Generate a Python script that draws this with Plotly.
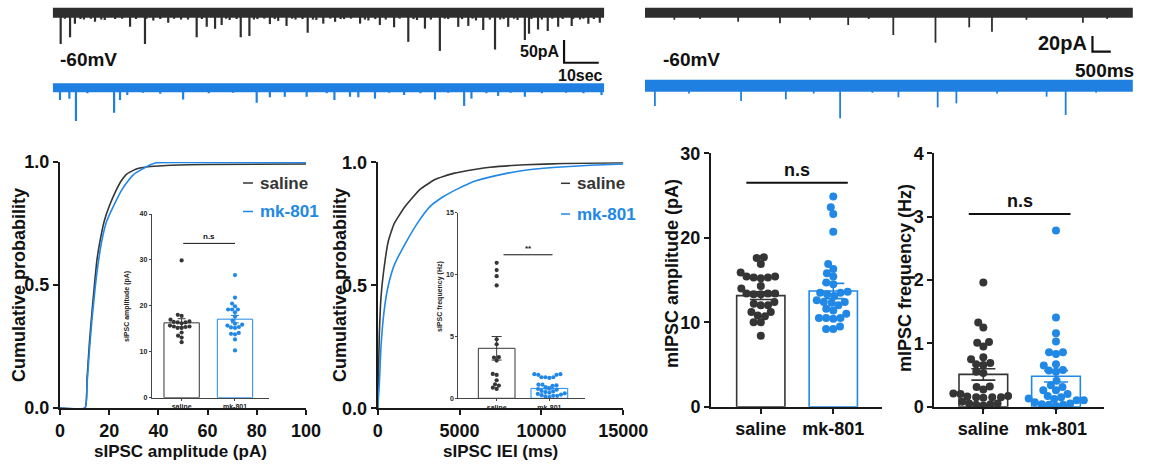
import math
import plotly.graph_objects as go

# ---------------- DATA ----------------
GROUPS = ["saline", "mk-801"]

# Example traces: recording length and detected events (time s, amplitude pA)
SIPSC_DURATION_S = 159
SIPSC_SAL_T = [2.3, 5.0, 6.4, 12.2, 22.3, 26.6, 33.3, 41.5, 44.4, 46.8, 48.7, 54.2, 56.7, 62.6, 67.4, 73.5, 78.0,
               81.4, 88.6, 94.3, 98.4, 102.5, 107.3, 111.6, 116.9, 119.8, 124.1, 127.5, 131.3, 136.1, 137.3, 139.9,
               142.7, 145.7, 149.6, 154.4, 157.7,
               9, 15, 18, 29, 37, 51, 59, 65, 70, 76, 84, 91, 96, 105, 114, 122, 129, 134, 147, 152,
               3.5, 8, 11, 14, 20, 24, 27, 31, 35, 39, 43, 50, 53, 58, 61, 64, 69, 72, 75, 80, 83, 86, 90, 93,
               100, 104, 109, 113, 118, 121, 126, 130, 133, 138, 141, 144, 150, 153, 156]
SIPSC_SAL_A = [69, 54, 24, 20, 31, 69, 22, 54, 31, 35, 27, 54, 51, 25, 29, 44, 24,
               20, 24, 27, 32, 64, 35, 84, 31, 29, 38, 81, 31, 60, 46, 37,
               40, 31, 29, 24, 22,
               15, 16, 14, 17, 15, 16, 14, 18, 15, 16, 14, 17, 15, 16, 14, 17, 15, 16, 14, 15,
               13, 14, 13, 15, 13, 14, 13, 14, 13, 15, 14, 13, 14, 15, 13, 14, 13, 14, 15, 13, 14, 13, 15, 14,
               13, 14, 15, 13, 14, 13, 15, 14, 13, 14, 15, 13, 14, 13, 14]
SIPSC_MK_T = [2.1, 4.8, 6.7, 17.7, 19.4, 21.5, 37.6, 58.8, 62.6, 66.9, 73.2, 81.2, 85.7, 88.1, 92.9, 101.3,
              110.2, 118.6, 120.7, 128.4, 136.1, 158.2,
              10, 26, 31, 45, 52, 79, 97, 106, 114, 125, 132, 141, 148, 153]
SIPSC_MK_A = [27, 24, 73, 55, 27, 16, 26, 33, 21, 20, 20, 27, 20, 21, 24, 16,
              26, 40, 24, 18, 20, 16,
              12, 11, 13, 12, 11, 12, 11, 12, 11, 12, 11, 12, 11, 12]

MIPSC_DURATION_S = 13.3
MIPSC_SAL_T = [2.54, 3.68, 5.54, 6.77, 7.92, 8.84, 9.46, 11.94, 0.8, 1.5, 4.5, 6.1, 10.4, 12.6]
MIPSC_SAL_A = [11.5, 13.6, 15.7, 28.5, 38.3, 18.7, 24.3, 12.8, 9, 8, 9, 8, 9, 8]
MIPSC_MK_T = [0.27, 2.62, 3.84, 5.32, 6.91, 7.98, 8.49, 10.95, 11.47, 1.2, 4.6, 6.2, 9.6, 12.3]
MIPSC_MK_A = [26, 19.6, 17.5, 41.7, 14.9, 27.7, 22.6, 14, 37.4, 10, 10, 9, 10, 9]

# Cumulative distributions
AMP_X_SAL = [0, 10.2, 11, 12, 13, 14, 15, 16.3, 18, 20, 22.8, 25, 27, 29.8, 32, 35, 40, 45, 60, 100]
AMP_Y_SAL = [0, 0, 0.12, 0.27, 0.39, 0.5, 0.6, 0.68, 0.76, 0.82, 0.885, 0.925, 0.95, 0.966, 0.975, 0.98, 0.984,
             0.987, 0.99, 0.992]
AMP_X_MK = [0, 10.2, 11, 12, 13, 14, 15, 17, 19, 21.7, 25, 27.8, 30, 32.5, 35, 37, 39.3, 45, 100]
AMP_Y_MK = [0, 0, 0.1, 0.24, 0.36, 0.46, 0.55, 0.68, 0.76, 0.82, 0.885, 0.925, 0.95, 0.966, 0.98, 0.99, 0.997,
            0.998, 0.998]

IEI_X_SAL = [0, 50, 100, 200, 350, 650, 1000, 1670, 2585, 3500, 4620, 6000, 6860, 9000, 11330, 15000]
IEI_Y_SAL = [0, 0.15, 0.3, 0.45, 0.55, 0.68, 0.75, 0.82, 0.89, 0.93, 0.955, 0.972, 0.98, 0.99, 0.995, 0.998]
IEI_X_MK = [0, 100, 200, 400, 650, 1000, 1770, 2500, 3190, 4000, 4820, 6000, 7870, 9000, 10920, 13000, 15000]
IEI_Y_MK = [0, 0.1, 0.25, 0.4, 0.5, 0.58, 0.68, 0.76, 0.82, 0.86, 0.89, 0.925, 0.955, 0.968, 0.98, 0.988, 0.993]

# Inset: sIPSC amplitude (pA)
SAMP_SAL = [29.9, 18.05, 17.8, 17.0, 16.6, 16.4, 16.5, 16.4, 16.2, 15.7, 15.5, 15.2, 15.2, 15.4, 15.5, 13.5, 13.1,
            14.2, 12.1]
SAMP_MK = [26.7, 21.8, 20.5, 19.9, 19.2, 18.6, 19.2, 19.2, 17.7, 16.8, 16.1, 15.7, 15.4, 15.2, 15.3, 15.9, 14.1,
           13.8, 13.9, 12.7, 10.3]
SAMP_MEAN = [16.3, 17.1]
SAMP_SEM = [0.9, 0.8]
SAMP_SIG = 33.6

# Inset: sIPSC frequency (Hz)
SFREQ_SAL = [10.95, 10.36, 9.87, 9.12, 4.77, 4.37, 3.32, 3.05, 3.29, 1.89, 1.97, 1.46, 1.03, 0.76, 0.86, 1.13]
SFREQ_MK = [1.95, 1.95, 1.9, 1.9, 1.7, 1.7, 1.7, 1.65, 1.1, 1.1, 1.05, 1.0, 0.9, 0.8, 0.75, 0.7, 0.6, 0.55, 0.5,
            0.45, 0.4, 0.35, 0.3, 0.25, 0.2, 0.2, 0.15, 0.1]
SFREQ_MEAN = [4.04, 0.8]
SFREQ_SEM = [0.95, 0.12]
SFREQ_SIG = 11.6

# mIPSC amplitude (pA)
MAMP_SAL = [17.7, 17.6, 16.9, 15.9, 15.4, 15.4, 15.3, 15.2, 15.3, 14.3, 13.4, 13.3, 13.3, 13.4, 13.4, 12.4, 12.0,
            12.0, 12.2, 11.2, 10.8, 10.7, 11.2, 10.0, 10.0, 8.4, 14.0]
MAMP_MK = [24.9, 22.8, 23.6, 20.7, 16.9, 16.3, 15.8, 15.4, 14.7, 14.5, 13.6, 13.5, 13.5, 13.3, 13.1, 12.4, 12.4,
           12.3, 12.6, 11.4, 11.6, 10.5, 10.4, 10.5, 10.5, 9.5, 9.2, 9.2, 11.0, 12.0]
MAMP_MEAN = [13.15, 13.7]
MAMP_SEM = [0.45, 0.9]
MAMP_SIG = 26.5

# mIPSC frequency (Hz)
MFREQ_SAL = [1.96, 1.33, 1.25, 1.01, 0.95, 1.02, 0.78, 0.69, 0.75, 0.66, 0.67, 0.55, 0.53, 0.31, 0.27, 0.32, 0.2,
             0.21, 0.15, 0.16, 0.14, 0.15, 0.17, 0.15, 0.05, 0.03, 0.05, 0.04, 0.02, 0.08]
MFREQ_MK = [2.78, 1.41, 1.16, 1.03, 0.86, 0.83, 0.86, 0.67, 0.65, 0.57, 0.55, 0.58, 0.34, 0.41, 0.31, 0.26, 0.26,
            0.17, 0.13, 0.1, 0.1, 0.2, 0.04, 0.03, 0.01, 0.03, 0.05, 0.15, 0.12, 0.07]
MFREQ_MEAN = [0.51, 0.48]
MFREQ_SEM = [0.09, 0.09]
MFREQ_SIG = 3.04

# ---------------- STYLE / LAYOUT ----------------
W, H = 1150, 464
FONT = "Liberation Sans, Arial, sans-serif"
DARK = "#353535"
BLUE = "#2188e6"
TR_DARK = "#2e2e2e"
TR_BLUE = "#1f80e2"
AXC = "#1a1a1a"

fig = go.Figure()
layout = dict(width=W, height=H, margin=dict(l=0, r=0, t=0, b=0, autoexpand=False), paper_bgcolor="white",
              plot_bgcolor="rgba(0,0,0,0)", showlegend=False, barmode="overlay", hovermode=False)


def xdom(x0, x1):
    return [x0 / W, x1 / W]


def ydom(top, bottom):
    return [1 - bottom / H, 1 - top / H]


PANELS = {}


def add_axes(n, xpx, ypx, xr, yr, kind):
    PANELS[n] = dict(xpx=xpx, ypx=ypx, xr=xr, yr=yr)
    xa = "xaxis" if n == 1 else f"xaxis{n}"
    ya = "yaxis" if n == 1 else f"yaxis{n}"
    anc = "" if n == 1 else str(n)
    base = dict(showgrid=False, zeroline=False, fixedrange=True, automargin=False)
    if kind == "hidden":
        layout[xa] = dict(domain=xdom(*xpx), range=xr, visible=False, anchor="y" + anc, **base)
        layout[ya] = dict(domain=ydom(*ypx), range=yr, visible=False, anchor="x" + anc, **base)
        return
    if kind == "main":
        ax = dict(showline=True, linewidth=2, linecolor=AXC, ticks="outside", ticklen=5, tickwidth=2,
                  tickcolor=AXC, tickfont=dict(family=FONT, size=18, color="#111", weight="bold"), **base)
    else:
        ax = dict(showline=True, linewidth=1, linecolor="#444", ticks="outside", ticklen=2, tickwidth=1,
                  tickcolor="#444", tickfont=dict(family=FONT, size=7, color="#222", weight="bold"), **base)
    layout[xa] = dict(domain=xdom(*xpx), range=xr, anchor="y" + anc, **ax)
    layout[ya] = dict(domain=ydom(*ypx), range=yr, anchor="x" + anc, **ax)


def ax_ids(n):
    return ("x", "y") if n == 1 else (f"x{n}", f"y{n}")


# ---- traces (top) ----
add_axes(1, (52.7, 604.3), (0, 125), [0, 159], [-247, 28], "hidden")
add_axes(2, (645, 1135), (0, 125), [0, 13.36], [-143.4, 16.2], "hidden")


def add_recording(n, duration, times, amps, base, color, band_w, spike_w):
    xa, ya = ax_ids(n)
    fig.add_trace(go.Scatter(x=[0, duration], y=[base, base], mode="lines", xaxis=xa, yaxis=ya,
                             line=dict(color=color, width=band_w), hoverinfo="skip"))
    xs, ys = [], []
    for t, a in zip(times, amps):
        xs += [t, t, None]
        ys += [base, base - a, None]
    fig.add_trace(go.Scatter(x=xs, y=ys, mode="lines", xaxis=xa, yaxis=ya, connectgaps=False,
                             line=dict(color=color, width=spike_w), hoverinfo="skip"))


add_recording(1, SIPSC_DURATION_S, SIPSC_SAL_T, SIPSC_SAL_A, 0, TR_DARK, 10, 2.2)
add_recording(1, SIPSC_DURATION_S, SIPSC_MK_T, SIPSC_MK_A, -165, TR_BLUE, 9, 2.2)
add_recording(2, MIPSC_DURATION_S, MIPSC_SAL_T, MIPSC_SAL_A, 0, TR_DARK, 10, 1.8)
add_recording(2, MIPSC_DURATION_S, MIPSC_MK_T, MIPSC_MK_A, -93.2, TR_BLUE, 12, 1.8)


def scale_bar(n, x0, y0, dx, dy):
    xa, ya = ax_ids(n)
    fig.add_trace(go.Scatter(x=[x0, x0, x0 + dx], y=[y0 + dy, y0, y0], mode="lines", xaxis=xa, yaxis=ya,
                             line=dict(color="#111", width=2.2), hoverinfo="skip"))


scale_bar(1, 147.4, -110, 10, 50)
scale_bar(2, 12.2, -49.8, 0.5, 20)


def ann(text, x, y, size, color="#111", xanchor="center", angle=0, bold=True):
    fig.add_annotation(text=f"<b>{text}</b>" if bold else text, x=x / W, y=1 - y / H, xref="paper",
                       yref="paper", showarrow=False, xanchor=xanchor, yanchor="middle", textangle=angle,
                       font=dict(family=FONT, size=size, color=color), borderpad=0)


ann("-60mV", 59, 60, 19, xanchor="left")
ann("50pA", 561, 51.5, 16, xanchor="right")
ann("10sec", 580, 76, 16)
ann("-60mV", 662, 59, 19, xanchor="left")
ann("20pA", 1088, 43, 20, xanchor="right")
ann("500ms", 1104, 70, 19)

# ---- cumulative panels ----
add_axes(3, (60, 306), (162, 408), [0, 100], [0, 1], "main")
add_axes(5, (377.7, 623.3), (162.3, 408.3), [0, 15000], [0, 1], "main")
layout["xaxis3"].update(tickvals=[0, 20, 40, 60, 80, 100])
layout["yaxis3"].update(tickvals=[0, 0.5, 1], ticktext=["0.0", "0.5", "1.0"])
layout["xaxis5"].update(tickvals=[0, 5000, 10000, 15000], ticktext=["0", "5000", "10000", "15000"])
layout["yaxis5"].update(tickvals=[0, 0.5, 1], ticktext=["0.0", "0.5", "1.0"])

for n, xs, ys, col in [(3, AMP_X_SAL, AMP_Y_SAL, DARK), (3, AMP_X_MK, AMP_Y_MK, BLUE),
                       (5, IEI_X_SAL, IEI_Y_SAL, DARK), (5, IEI_X_MK, IEI_Y_MK, BLUE)]:
    xa, ya = ax_ids(n)
    fig.add_trace(go.Scatter(x=xs, y=ys, mode="lines", xaxis=xa, yaxis=ya, cliponaxis=False,
                             line=dict(color=col, width=1.6, shape="spline", smoothing=0.4),
                             hoverinfo="skip"))

ann("Cumulative probability", 19, 285, 18, angle=-90)
ann("sIPSC amplitude (pA)", 180, 451, 17)
ann("Cumulative probability", 340, 285, 18, angle=-90)
ann("sIPSC IEI (ms)", 500, 451, 17)

# legends
for (dx0, dx1, tx, y_s, y_m) in [(243, 253, 259, 183, 211.5), (561, 570, 576.5, 183.3, 214)]:
    fig.add_shape(type="line", xref="paper", yref="paper", x0=dx0 / W, x1=dx1 / W, y0=1 - y_s / H,
                  y1=1 - y_s / H, line=dict(color=DARK, width=1.5))
    fig.add_shape(type="line", xref="paper", yref="paper", x0=dx0 / W, x1=dx1 / W, y0=1 - y_m / H,
                  y1=1 - y_m / H, line=dict(color=BLUE, width=1.5))
    ann(GROUPS[0], tx, y_s, 17, color=DARK, xanchor="left")
    ann(GROUPS[1], tx, y_m, 17, color=BLUE, xanchor="left")

# ---- bar + scatter panels ----
add_axes(4, (151.7, 269.3), (214, 397.7), [-0.561, 1.643], [0, 40], "inset")
add_axes(6, (458.3, 585), (212.7, 398.3), [-0.728, 1.676], [0, 15], "inset")
add_axes(7, (711, 881.7), (153.3, 406.7), [-0.687, 1.668], [0, 30], "main")
add_axes(8, (934.3, 1104), (153.3, 406.7), [-0.675, 1.661], [0, 4], "main")
layout["yaxis4"].update(tickvals=[0, 10, 20, 30, 40])
layout["yaxis6"].update(tickvals=[0, 5, 10, 15])
layout["yaxis7"].update(tickvals=[0, 10, 20, 30])
layout["yaxis8"].update(tickvals=[0, 1, 2, 3, 4])
for n in (4, 6, 7, 8):
    layout[f"xaxis{n}"].update(tickvals=[0, 1], ticktext=GROUPS)
layout["xaxis7"]["tickfont"] = dict(family=FONT, size=18, color="#111", weight="bold")
layout["xaxis8"]["tickfont"] = dict(family=FONT, size=18, color="#111", weight="bold")


def swarm(values, px_per_val, d):
    placed = []
    out = [0.0] * len(values)
    order = sorted(range(len(values)), key=lambda i: values[i])
    for i in order:
        y = values[i] * px_per_val
        cands = [0.0]
        for (px, py) in placed:
            dyv = abs(py - y)
            if dyv < d:
                dxv = math.sqrt(d * d - dyv * dyv)
                cands += [px + dxv, px - dxv]
        cands.sort(key=lambda c: (round(abs(c), 6), c))
        for c in cands:
            if all((c - px) ** 2 + (y - py) ** 2 >= d * d - 1e-6 for px, py in placed):
                out[i] = c
                placed.append((c, y))
                break
    return out


def bar_panel(n, groups_vals, means, sems, bw, msize, dsep, lw, capw, sig_y, sig_x, sig_text, sig_size):
    p = PANELS[n]
    xa, ya = ax_ids(n)
    px_per_x = (p["xpx"][1] - p["xpx"][0]) / (p["xr"][1] - p["xr"][0])
    px_per_y = (p["ypx"][1] - p["ypx"][0]) / (p["yr"][1] - p["yr"][0])
    cols = [DARK, BLUE]
    for gi in range(2):
        fig.add_trace(go.Bar(x=[gi], y=[means[gi]], width=bw, xaxis=xa, yaxis=ya,
                             marker=dict(color="rgba(255,255,255,0)", line=dict(color=cols[gi], width=lw)),
                             error_y=dict(type="data", array=[sems[gi]], color=cols[gi], thickness=lw,
                                          width=capw),
                             hoverinfo="skip"))
    for gi in range(2):
        vals = groups_vals[gi]
        offs = swarm(vals, px_per_y, dsep)
        fig.add_trace(go.Scatter(x=[gi + o / px_per_x for o in offs], y=vals, mode="markers", xaxis=xa,
                                 yaxis=ya, cliponaxis=False,
                                 marker=dict(color=cols[gi], size=msize, line=dict(width=0)),
                                 hoverinfo="skip"))
    fig.add_trace(go.Scatter(x=list(sig_x), y=[sig_y, sig_y], mode="lines", xaxis=xa, yaxis=ya,
                             line=dict(color="#111", width=1 if n in (4, 6) else 2), hoverinfo="skip"))
    fig.add_annotation(text=f"<b>{sig_text}</b>", x=(sig_x[0] + sig_x[1]) / 2, y=sig_y, xref=xa, yref=ya,
                       showarrow=False, yanchor="bottom", yshift=0 if n in (4, 6) else 1,
                       font=dict(family=FONT, size=sig_size, color="#111"))


bar_panel(4, [SAMP_SAL, SAMP_MK], SAMP_MEAN, SAMP_SEM, 0.662, 4.2, 4.0, 1, 4, SAMP_SIG, (0.03, 1.0), "n.s", 8)
bar_panel(6, [SFREQ_SAL, SFREQ_MK], SFREQ_MEAN, SFREQ_SEM, 0.696, 4.2, 4.0, 1, 5, SFREQ_SIG, (0.13, 1.06), "**", 8)
bar_panel(7, [MAMP_SAL, MAMP_MK], MAMP_MEAN, MAMP_SEM, 0.666, 8, 7.2, 1.6, 11, MAMP_SIG, (-0.2, 1.2), "n.s", 18)
bar_panel(8, [MFREQ_SAL, MFREQ_MK], MFREQ_MEAN, MFREQ_SEM, 0.67, 8, 7.2, 1.6, 12, MFREQ_SIG, (-0.2, 1.2), "n.s", 18)

ann("sIPSC amplitude (pA)", 127, 307, 7, color="#222", angle=-90)
ann("sIPSC frequency (Hz)", 440, 297, 7, color="#222", angle=-90)
ann("mIPSC amplitude (pA)", 672, 274, 18, angle=-90)
ann("mIPSC frequency (Hz)", 905, 278, 18, angle=-90)

fig.update_layout(**layout)
fig.write_html("out.html", config={"displayModeBar": False, "staticPlot": True},
               post_script="document.body.style.margin='0';document.body.style.padding='0';")
